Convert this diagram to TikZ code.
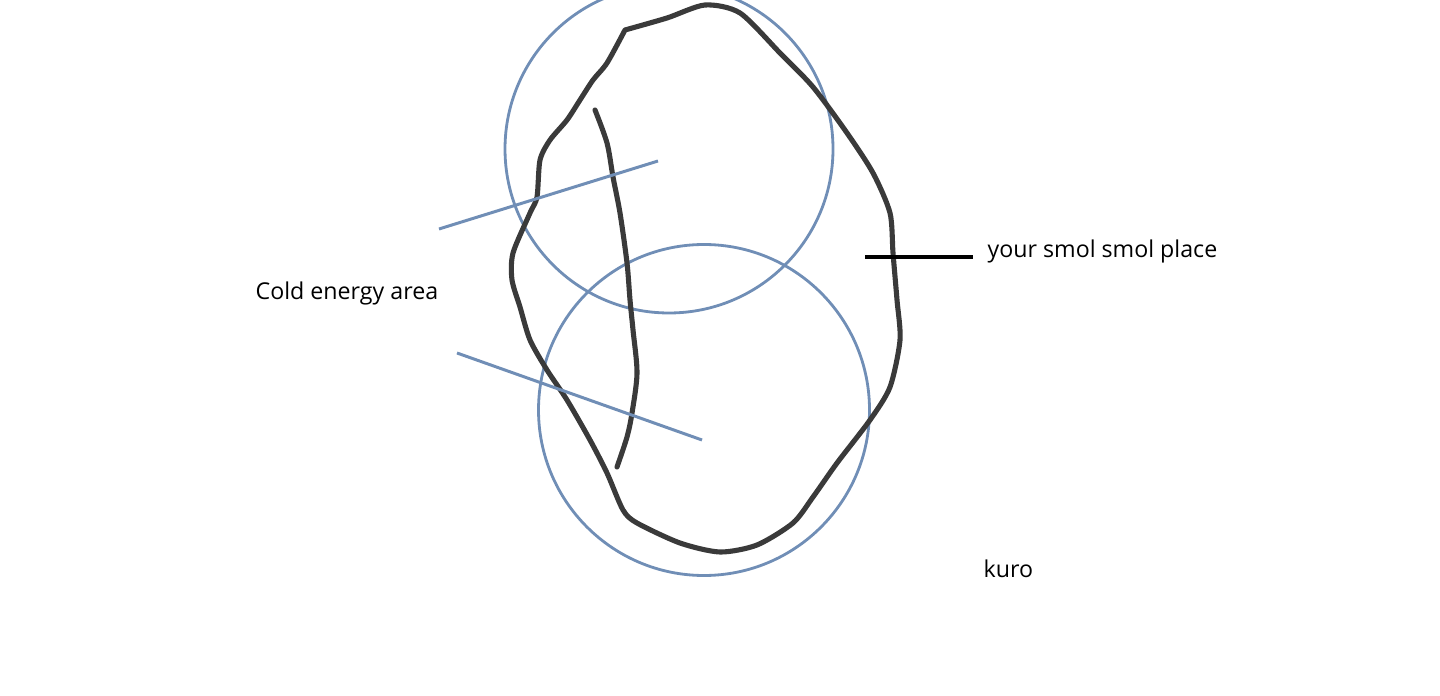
\documentclass[tikz,border=0pt]{standalone}
\usepackage{fontspec}
\setmainfont{Open Sans}
\begin{document}
\begin{tikzpicture}[
    x=0.1mm, y=-0.1mm,
    ring/.style={draw={rgb,255:red,112;green,142;blue,182}, line width=0.8pt},
    mark line/.style={draw={rgb,255:red,112;green,142;blue,182}, line width=0.85pt},
    scribble/.style={draw={rgb,255:red,58;green,58;blue,58}, line width=1.45pt, line cap=round, line join=round},
    pointer/.style={draw=black, line width=1.1pt},
    label/.style={inner sep=0pt, anchor=base west, font=\fontsize{6.6pt}{8pt}\selectfont}
]

\clip (0,0) rectangle (1440,696);

% Circles
\draw[ring] (669,149) circle (164);
\draw[ring] (704,410) circle (165.5);

% Outer scribble (starts and ends at the corner)
\draw[scribble] plot[smooth, tension=0.45] coordinates {
    (625,30) (667,18) (705,5) (740,13) (780,53) (813,87) (847,133) (873,173)
    (890,213) (893,253) (897,300) (900,340) (890,387) (870,420) (837,463)
    (813,497) (793,523) (757,545) (720,552) (680,543) (637,523) (623,510)
    (607,473) (590,440) (567,400) (547,370) (530,340) (520,307) (512,280)
    (513,253) (530,213) (537,197) (540,160) (550,140) (567,120) (580,100)
    (593,80) (607,63) (625,30)};

% Inner scribble
\draw[scribble] plot[smooth, tension=0.5] coordinates {
    (595,110) (607,143) (613,177) (620,213) (627,263) (630,300)
    (633,330) (637,373) (632,413) (627,437) (617,467)};

% Blue marks
\coordinate (m1a) at (439,229);
\coordinate (m1b) at (658,161);
\coordinate (m2a) at (457,353);
\coordinate (m2b) at (702,440);
\draw[mark line] (m1a) -- (m1b);
\draw[mark line] (m2a) -- (m2b);

% Labels
\node[label] (cold) at (255,300) {Cold energy area};
\node[label] (place) at (987,258) {your smol smol place};
\node[label] (kuro) at (983,577) {kuro};

% Pointer
\coordinate (tip) at (865,257);
\draw[pointer] (tip) -- ([xshift=-1.4mm]tip -| place.west);

\end{tikzpicture}
\end{document}
